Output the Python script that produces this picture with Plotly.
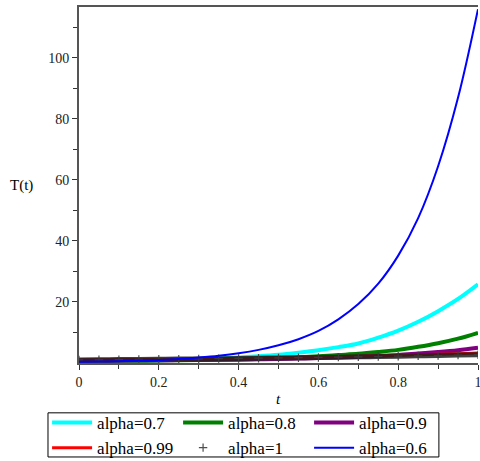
import plotly.graph_objects as go

t = [0.0, 0.05, 0.1, 0.15, 0.2, 0.25, 0.3, 0.35, 0.4, 0.45, 0.5,
     0.55, 0.6, 0.65, 0.7, 0.75, 0.8, 0.85, 0.9, 0.95, 1.0]

T_a07 = [0.5, 0.6, 0.7, 0.8, 0.9, 1.1, 1.3, 1.5, 1.8, 2.2, 2.7,
         3.4, 4.2, 5.2, 6.4, 8.3, 10.6, 13.5, 17.0, 21.0, 25.8]
T_a08 = [0.6, 0.65, 0.7, 0.75, 0.8, 0.9, 1.0, 1.1, 1.2, 1.4, 1.6,
         1.9, 2.2, 2.6, 3.0, 3.6, 4.3, 5.3, 6.5, 8.0, 9.9]
T_a09 = [0.8, 0.82, 0.85, 0.87, 0.9, 0.95, 1.0, 1.05, 1.1, 1.2, 1.3,
         1.45, 1.6, 1.8, 2.0, 2.3, 2.6, 3.1, 3.6, 4.2, 5.0]
T_a099 = [1.0, 1.05, 1.1, 1.16, 1.22, 1.29, 1.36, 1.44, 1.53, 1.62, 1.72,
          1.83, 1.95, 2.08, 2.22, 2.37, 2.53, 2.7, 2.88, 3.05, 3.25]
T_a1 = [1.0, 1.05, 1.11, 1.16, 1.22, 1.28, 1.35, 1.42, 1.49, 1.57, 1.65,
        1.73, 1.82, 1.92, 2.01, 2.12, 2.23, 2.34, 2.46, 2.59, 2.72]
T_a06 = [0.4, 0.5, 0.6, 0.8, 1.0, 1.3, 1.8, 2.4, 3.2, 4.3, 5.8,
         7.8, 10.5, 14.3, 19.3, 26.0, 35.2, 47.5, 64.5, 87.0, 116.0]

labels = ["alpha=0.7", "alpha=0.8", "alpha=0.9", "alpha=0.99", "alpha=1", "alpha=0.6"]

FONT = "Liberation Serif"

fig = go.Figure()

def line(y, name, color, width):
    fig.add_trace(go.Scatter(x=t, y=y, name=name, mode="lines",
                             line=dict(color=color, width=width, shape="spline")))

line(T_a07, labels[0], "#00FFFF", 4)
line(T_a08, labels[1], "#008000", 4)
line(T_a09, labels[2], "#800080", 4)
line(T_a099, labels[3], "#FF0000", 3)
# alpha=1 drawn as dense crosses: a dark band plus cross markers
fig.add_trace(go.Scatter(x=t, y=T_a1, mode="lines", showlegend=False,
                         line=dict(color="rgba(30,30,30,0.85)", width=5, shape="spline"),
                         hoverinfo="skip"))
fig.add_trace(go.Scatter(x=t, y=T_a1, name=labels[4], mode="markers",
                         marker=dict(symbol="cross-thin", size=6,
                                     line=dict(color="rgba(60,60,60,0.9)", width=1.2))))
line(T_a06, labels[5], "#0000FF", 2)

fig.update_layout(
    width=480, height=461,
    margin=dict(l=79, r=2, t=7, b=98, autoexpand=False),
    plot_bgcolor="white", paper_bgcolor="white",
    font=dict(family=FONT, size=14, color="black"),
    showlegend=True,
    legend=dict(orientation="h", x=-0.080, xanchor="left", y=-0.118, yanchor="top",
                bgcolor="rgba(0,0,0,0)", borderwidth=0, entrywidth=76,
                font=dict(family=FONT, size=17, color="black"),
                tracegroupgap=0, itemwidth=40,
                traceorder="normal"),
    shapes=[dict(type="rect", xref="paper", yref="paper",
                 x0=-0.0777, x1=0.902, y0=-0.264, y1=-0.140,
                 line=dict(color="black", width=1), fillcolor="rgba(0,0,0,0)")],
    xaxis=dict(range=[0, 1], showgrid=False, zeroline=False,
               showline=True, linecolor="#555", linewidth=2, mirror=True,
               ticks="outside", ticklen=5, tickcolor="#333", tickwidth=1,
               tickvals=[0, 0.2, 0.4, 0.6, 0.8, 1],
               ticktext=["0", "0.2", "0.4", "0.6", "0.8", "1"],
               ticklabeloverflow="allow",
               minor=dict(tickvals=[0.1, 0.3, 0.5, 0.7, 0.9], ticks="outside",
                          ticklen=4, tickcolor="#333"),
               tickfont=dict(family=FONT, size=14, color="#222")),
    yaxis=dict(range=[0, 116.7], showgrid=False, zeroline=False,
               showline=True, linecolor="#555", linewidth=2,
               ticks="outside", ticklen=5, tickcolor="#333", tickwidth=1,
               tickvals=[20, 40, 60, 80, 100],
               minor=dict(tickvals=[10, 30, 50, 70, 90, 110], ticks="outside",
                          ticklen=4, tickcolor="#333"),
               tickfont=dict(family=FONT, size=14, color="#222")),
    annotations=[
        dict(text="T(t)", xref="paper", yref="paper", x=-0.145, y=0.5,
             xanchor="center", yanchor="middle", showarrow=False,
             font=dict(family=FONT, size=15, color="black")),
        dict(text="<i>t</i>", xref="paper", yref="paper", x=0.5, y=-0.1,
             xanchor="center", yanchor="middle", showarrow=False,
             font=dict(family=FONT, size=15, color="black")),
    ],
)

fig.write_html("out.html", config={"displayModeBar": False},
               post_script="document.body.style.margin='0';document.body.style.padding='0';")
